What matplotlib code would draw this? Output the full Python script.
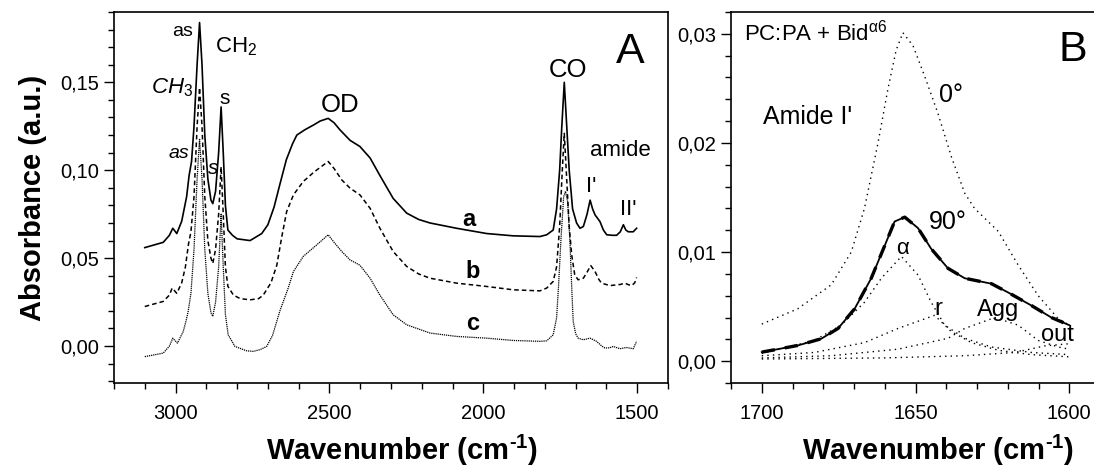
import numpy as np
import matplotlib
matplotlib.use("Agg")
import matplotlib.pyplot as plt
from matplotlib.ticker import MultipleLocator, FuncFormatter

plt.rcParams['font.family'] = ['Liberation Sans', 'DejaVu Sans']
plt.rcParams['mathtext.fontset'] = 'custom'
plt.rcParams['mathtext.rm'] = 'Liberation Sans'
plt.rcParams['mathtext.it'] = 'Liberation Sans:italic'
plt.rcParams['mathtext.bf'] = 'Liberation Sans:bold'

# Panel A: full spectra a, b, c
wn_a = [3100, 3040, 3020, 3009, 2996, 2980, 2964, 2956, 2948, 2940, 2930, 2922, 2914,
        2905, 2895, 2885, 2879, 2870, 2860, 2852, 2845, 2838, 2830, 2815, 2800, 2758,
        2720, 2700, 2680, 2661, 2640, 2620, 2606, 2580, 2552, 2530, 2504, 2485, 2466,
        2433, 2401, 2368, 2336, 2293, 2249, 2210, 2173, 2087, 1989, 1903, 1816, 1794,
        1773, 1762, 1752, 1745, 1737, 1729, 1721, 1710, 1697, 1686, 1675, 1663, 1653,
        1645, 1637, 1621, 1610, 1599, 1580, 1567, 1555, 1545, 1537, 1529, 1513, 1502]
abs_a = [0.056, 0.059, 0.063, 0.067, 0.064, 0.071, 0.085, 0.097, 0.105, 0.125, 0.160, 0.184, 0.160,
         0.120, 0.095, 0.083, 0.081, 0.088, 0.110, 0.136, 0.110, 0.080, 0.066, 0.063, 0.061, 0.060,
         0.064, 0.069, 0.079, 0.092, 0.106, 0.115, 0.120, 0.123, 0.1257, 0.128, 0.1295, 0.127, 0.123,
         0.117, 0.1135, 0.107, 0.097, 0.084, 0.0756, 0.072, 0.070, 0.067, 0.064, 0.0627, 0.0623, 0.0633,
         0.066, 0.078, 0.100, 0.125, 0.150, 0.125, 0.100, 0.078, 0.070, 0.067, 0.068, 0.075, 0.083,
         0.078, 0.0746, 0.0708, 0.066, 0.0633, 0.063, 0.063, 0.065, 0.069, 0.066, 0.065, 0.065, 0.067]

wn_b = [3100, 3040, 3020, 3011, 2996, 2980, 2968, 2958, 2950, 2940, 2930, 2922, 2914,
        2905, 2895, 2885, 2879, 2870, 2860, 2852, 2845, 2838, 2830, 2812, 2790, 2758,
        2730, 2715, 2690, 2671, 2655, 2639, 2617, 2585, 2550, 2504, 2485, 2460, 2433,
        2401, 2368, 2336, 2293, 2249, 2210, 2173, 2087, 1989, 1903, 1816, 1794, 1773,
        1762, 1752, 1744, 1737, 1730, 1721, 1713, 1703, 1692, 1675, 1663, 1651, 1637,
        1625, 1616, 1589, 1556, 1540, 1530, 1518, 1508, 1502]
abs_b = [0.0225, 0.0254, 0.029, 0.033, 0.030, 0.036, 0.045, 0.058, 0.065, 0.085, 0.125, 0.147, 0.125,
         0.085, 0.060, 0.050, 0.047, 0.055, 0.075, 0.102, 0.075, 0.045, 0.034, 0.029, 0.027, 0.0263,
         0.027, 0.029, 0.036, 0.046, 0.062, 0.0765, 0.086, 0.0936, 0.099, 0.105, 0.101, 0.0945, 0.0898,
         0.086, 0.0784, 0.067, 0.0538, 0.0453, 0.041, 0.0386, 0.0358, 0.0339, 0.032, 0.0314, 0.033, 0.0368,
         0.045, 0.068, 0.098, 0.121, 0.098, 0.068, 0.052, 0.0405, 0.0377, 0.0386, 0.042, 0.0458, 0.0424,
         0.038, 0.0358, 0.0344, 0.035, 0.0358, 0.035, 0.0344, 0.036, 0.039]

wn_c = [3100, 3040, 3020, 3009, 2994, 2975, 2965, 2959, 2950, 2940, 2930, 2922, 2914,
        2905, 2895, 2885, 2879, 2870, 2860, 2852, 2845, 2838, 2829, 2807, 2769, 2747,
        2725, 2704, 2685, 2661, 2634, 2617, 2585, 2541, 2504, 2485, 2460, 2433, 2401,
        2368, 2336, 2293, 2249, 2173, 2087, 1989, 1903, 1816, 1794, 1773, 1762, 1756,
        1748, 1739, 1733, 1726, 1719, 1712, 1708, 1700, 1692, 1675, 1653, 1632, 1615,
        1605, 1590, 1578, 1556, 1535, 1513, 1502]
abs_c = [-0.006, -0.004, 0.000, 0.0045, 0.0017, 0.0083, 0.015, 0.0197, 0.030, 0.055, 0.095, 0.118, 0.095,
         0.055, 0.030, 0.019, 0.0169, 0.025, 0.045, 0.075, 0.045, 0.018, 0.0064, -0.0002, -0.0027, -0.003,
         -0.002, -0.0002, 0.006, 0.020, 0.033, 0.0424, 0.051, 0.0576, 0.0633, 0.059, 0.0538, 0.049, 0.046,
         0.0386, 0.029, 0.0178, 0.0121, 0.0074, 0.0055, 0.0045, 0.0032, 0.0027, 0.003, 0.0064, 0.016, 0.033,
         0.060, 0.085, 0.088, 0.082, 0.061, 0.030, 0.014, 0.007, 0.0045, 0.0036, 0.0045, 0.0027, 0.000,
         -0.0011, -0.001, -0.0002, -0.0015, -0.0008, -0.0015, 0.0027]

# Panel B: amide I' band, 0 and 90 degree polarisation, band fit components
wn_0 = [1700, 1688.3, 1677.4, 1670.9, 1666.6, 1662.2, 1659.0, 1656.3, 1654.1, 1650.8, 1647.0,
        1642.7, 1638.3, 1634.0, 1630.8, 1623.1, 1616.6, 1610.1, 1603.6, 1600]
abs_0 = [0.0034, 0.0048, 0.0070, 0.0100, 0.0140, 0.0200, 0.0249, 0.0285, 0.0301, 0.0289, 0.0261,
         0.0227, 0.0187, 0.0154, 0.0140, 0.0119, 0.0088, 0.0060, 0.0039, 0.0033]

wn_90 = [1700, 1688.3, 1680.7, 1675.2, 1669.8, 1664.4, 1660.0, 1656.8, 1653.5, 1649.2, 1644.9,
         1639.4, 1634.0, 1625.3, 1619.9, 1612.3, 1605.8, 1600]
abs_90 = [0.00083, 0.00144, 0.00205, 0.0030, 0.0048, 0.0076, 0.0106, 0.0128, 0.0132, 0.0122, 0.0103,
          0.0085, 0.0076, 0.0071, 0.0063, 0.0051, 0.0040, 0.0033]

wn_alpha = [1700, 1682.9, 1674.2, 1666.6, 1661.1, 1654.6, 1649.2, 1644.9, 1640.5, 1634.0, 1625.3, 1612.3, 1600]
abs_alpha = [0.0007, 0.0019, 0.0033, 0.0054, 0.0076, 0.0096, 0.0079, 0.0054, 0.0033, 0.0021, 0.0013, 0.0008, 0.0006]

wn_r = [1700, 1682.9, 1666.6, 1655.7, 1643.8, 1638.3, 1631.8, 1623.1, 1612.3, 1600]
abs_r = [0.0005, 0.0008, 0.0017, 0.0030, 0.0042, 0.0027, 0.0017, 0.0010, 0.0006, 0.0004]

wn_agg = [1700, 1677.4, 1655.7, 1639.4, 1634.0, 1624.2, 1616.6, 1610.1, 1603.6, 1600]
abs_agg = [0.0003, 0.0005, 0.0011, 0.0021, 0.0030, 0.0040, 0.0033, 0.0019, 0.0013, 0.0011]

wn_out = [1700, 1660, 1634, 1617.7, 1608, 1600]
abs_out = [0.0002, 0.0003, 0.0005, 0.0008, 0.0014, 0.0016]

comma = FuncFormatter(lambda v, p: ('%.2f' % v).replace('.', ','))
xlabel = r'Wavenumber (cm$^{\mathbf{‐1}}$)'

fig = plt.figure(figsize=(10.94, 4.68), dpi=100)
axA = fig.add_axes([0.1042, 0.1816, 0.5064, 0.7928])
axB = fig.add_axes([0.6682, 0.1816, 0.3373, 0.7928])

# --- panel A ---
axA.plot(wn_a, abs_a, color='black', lw=1.2)
axA.plot(wn_b, abs_b, color='black', lw=1.1, linestyle=(0, (3, 2)))
axA.plot(wn_c, abs_c, color='black', lw=0.9, linestyle=(0, (1, 0.7)))
axA.set_xlim(3200, 1400)
axA.set_ylim(-0.021, 0.19)
axA.xaxis.set_major_locator(MultipleLocator(500))
axA.xaxis.set_minor_locator(MultipleLocator(100))
axA.yaxis.set_major_locator(MultipleLocator(0.05))
axA.yaxis.set_minor_locator(MultipleLocator(0.01))
axA.yaxis.set_major_formatter(comma)
axA.set_ylabel('Absorbance (a.u.)', fontsize=21, fontweight='bold', labelpad=10)
axA.set_xlabel(xlabel, fontsize=21, fontweight='bold')
axA.xaxis.set_label_coords(0.52, -0.135)

axA.text(2977, 0.1788, 'as', fontsize=14, ha='center', va='center')
axA.text(2804, 0.170, r'CH$_2$', fontsize=16, ha='center', va='center')
axA.text(3010, 0.147, r'$\mathit{CH_3}$', fontsize=16, ha='center', va='center')
axA.text(2839, 0.141, 's', fontsize=15, ha='center', va='center')
axA.text(2988, 0.1097, 'as', fontsize=14, style='italic', ha='center', va='center')
axA.text(2877, 0.101, 's', fontsize=15, style='italic', ha='center', va='center')
axA.text(2466, 0.137, 'OD', fontsize=18.5, ha='center', va='center')
axA.text(1724, 0.157, 'CO', fontsize=18.5, ha='center', va='center')
axA.text(1524, 0.1674, 'A', fontsize=31, ha='center', va='center')
axA.text(1556, 0.1115, 'amide', fontsize=16, ha='center', va='center')
axA.text(1648, 0.0907, "I'", fontsize=16, ha='center', va='center')
axA.text(1529, 0.0775, "II'", fontsize=16, ha='center', va='center')
axA.text(2046, 0.0718, 'a', fontsize=17, fontweight='bold', ha='center', va='center')
axA.text(2034, 0.0424, 'b', fontsize=17, fontweight='bold', ha='center', va='center')
axA.text(2034, 0.0131, 'c', fontsize=17, fontweight='bold', ha='center', va='center')

# --- panel B ---
dots = (0, (1, 3))
axB.plot(wn_0, abs_0, color='black', lw=1.0, linestyle=dots)
for wn, ab in [(wn_alpha, abs_alpha), (wn_r, abs_r), (wn_agg, abs_agg), (wn_out, abs_out)]:
    axB.plot(wn, ab, color='black', lw=1.0, linestyle=dots)
axB.plot(wn_90, abs_90, color='black', lw=1.3)
axB.plot(wn_90, abs_90, color='black', lw=2.4, linestyle=(0, (4, 3)))
axB.set_xlim(1710, 1590)
axB.set_ylim(-0.002, 0.032)
axB.xaxis.set_major_locator(MultipleLocator(50))
axB.xaxis.set_minor_locator(MultipleLocator(10))
axB.yaxis.set_major_locator(MultipleLocator(0.01))
axB.yaxis.set_minor_locator(MultipleLocator(0.002))
axB.yaxis.set_major_formatter(comma)
axB.set_xlabel(xlabel, fontsize=21, fontweight='bold')
axB.xaxis.set_label_coords(0.56, -0.135)

axB.text(1705.7, 0.0301, r'PC:PA + Bid$^{\mathrm{α6}}$', fontsize=16, ha='left', va='center')
axB.text(1699.7, 0.0224, "Amide I'", fontsize=18, ha='left', va='center')
axB.text(1638.3, 0.0244, '0°', fontsize=18, ha='center', va='center')
axB.text(1639.6, 0.0128, '90°', fontsize=18, ha='center', va='center')
axB.text(1654.1, 0.0103, 'α', fontsize=16, ha='center', va='center')
axB.text(1642.7, 0.0048, 'r', fontsize=17, ha='center', va='center')
axB.text(1623.1, 0.0047, 'Agg', fontsize=17, ha='center', va='center')
axB.text(1603.8, 0.0024, 'out', fontsize=17, ha='center', va='center')
axB.text(1598.7, 0.0285, 'B', fontsize=31, ha='center', va='center')

for ax in (axA, axB):
    ax.tick_params(which='both', direction='out', top=False, right=False, labelsize=14.5)
    ax.tick_params(which='major', length=7, width=1)
    ax.tick_params(which='minor', length=4, width=1)
    ax.tick_params(axis='x', pad=8)
    for s in ax.spines.values():
        s.set_linewidth(1.2)

fig.savefig('out.png', dpi=100)
